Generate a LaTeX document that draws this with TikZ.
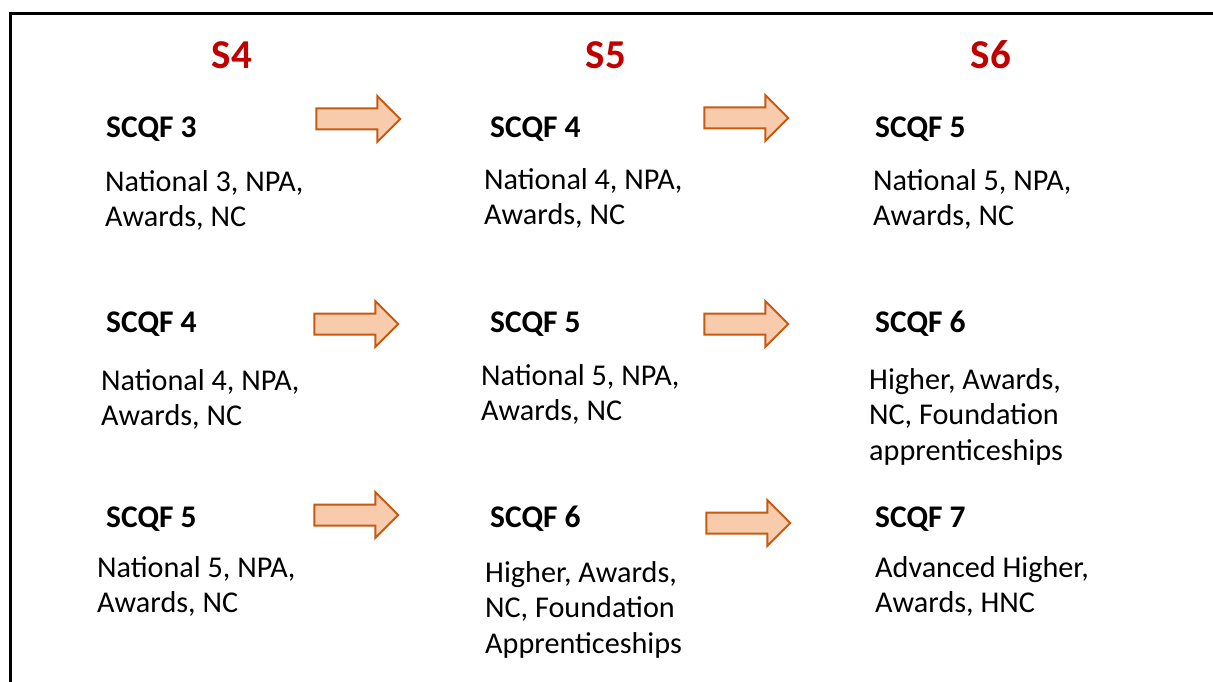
\documentclass[tikz,border=0pt]{standalone}
\usepackage{fontspec}
\setmainfont{Carlito}
\usetikzlibrary{shapes.arrows}
\definecolor{stagered}{HTML}{C00000}
\definecolor{arrowfill}{HTML}{F8CBAD}
\definecolor{arrowline}{HTML}{C55A11}
\tikzset{
  stage/.style={inner sep=0pt, text=stagered, font=\fontsize{41}{49}\selectfont\bfseries},
  level/.style={anchor=base west, inner sep=0pt, font=\fontsize{31.5}{37}\selectfont\bfseries},
  quals/.style={anchor=base west, inner sep=0pt, align=left, font=\fontsize{30.2}{35.5}\selectfont},
  nextstep/.style={single arrow, draw=arrowline, fill=arrowfill, line width=2pt, minimum height=84pt, inner xsep=0pt, inner ysep=9.5pt, single arrow head extend=12.5pt}
}
\begin{document}
\begin{tikzpicture}[x=1pt, y=-1pt]
\useasboundingbox (0,0) rectangle (1213,682);
\draw[line width=3pt] (10,14) rectangle (1230,700);

% year headings
\node (s4) [stage] at (232,55) {S4};
\node (s5) [stage] at (606,55) {S5};
\node (s6) [stage] at (991,55) {S6};

% first row (quals placed at their last baseline)
\node (lev11) [level] at (106,138) {SCQF 3};
\node (qual11) [quals] at (105,226.5) {National 3, NPA,\\Awards, NC};
\node (lev12) [level] at (490,138) {SCQF 4};
\node (qual12) [quals] at (484,224.5) {National 4, NPA,\\Awards, NC};
\node (lev13) [level] at (875,138) {SCQF 5};
\node (qual13) [quals] at (873,225.5) {National 5, NPA,\\Awards, NC};

% second row
\node (lev21) [level] at (106,332) {SCQF 4};
\node (qual21) [quals] at (101,425.5) {National 4, NPA,\\Awards, NC};
\node (lev22) [level] at (490,332) {SCQF 5};
\node (qual22) [quals] at (481,420.5) {National 5, NPA,\\Awards, NC};
\node (lev23) [level] at (875,332) {SCQF 6};
\node (qual23) [quals] at (869,460) {Higher, Awards,\\NC, Foundation\\apprenticeships};

% third row
\node (lev31) [level] at (106,527) {SCQF 5};
\node (qual31) [quals] at (97,612.5) {National 5, NPA,\\Awards, NC};
\node (lev32) [level] at (490,527) {SCQF 6};
\node (qual32) [quals] at (485,653) {Higher, Awards,\\NC, Foundation\\Apprenticeships};
\node (lev33) [level] at (875,527) {SCQF 7};
\node (qual33) [quals] at (875,612.5) {Advanced Higher,\\Awards, HNC};

% block arrows
\node (step11) [nextstep] at (353,119) {};
\node (step12) [nextstep] at (741,118) {};
\node (step21) [nextstep] at (351,324) {};
\node (step22) [nextstep] at (741,324) {};
\node (step31) [nextstep] at (351,515) {};
\node (step32) [nextstep] at (743,523) {};

\end{tikzpicture}
\end{document}
